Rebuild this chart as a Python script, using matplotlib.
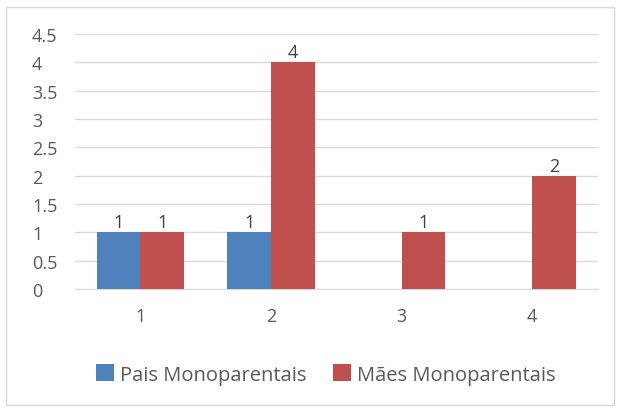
import numpy as np
import matplotlib
matplotlib.use("Agg")
from matplotlib import pyplot as plt
from matplotlib.patches import Rectangle

# dados
categorias = ["1", "2", "3", "4"]
pais = [1, 1, 0, 0]
maes = [1, 4, 1, 2]
yticks = [0, 0.5, 1, 1.5, 2, 2.5, 3, 3.5, 4, 4.5]

plt.rcParams['font.family'] = ['Open Sans', 'DejaVu Sans']
cor_txt = '#595959'
fs = 13

fig = plt.figure(figsize=(6.17, 4.10), dpi=100)
fig.patches.append(Rectangle((6/617, 4/410), 608/617, 398/410, transform=fig.transFigure,
                             fill=False, edgecolor='#D9D9D9', linewidth=1))
ax = fig.add_axes([0.1216, 0.2927, 0.847, 0.622])

x = np.arange(len(categorias))
w = 0.335
b1 = ax.bar(x - w/2, pais, w, color='#4F81BD', label='Pais Monoparentais', zorder=3)
b2 = ax.bar(x + w/2, maes, w, color='#C0504D', label='Mães Monoparentais', zorder=3)

# rótulos só para valores > 0
for bars, vals in [(b1, pais), (b2, maes)]:
    for r, v in zip(bars, vals):
        if v > 0:
            ax.text(r.get_x() + r.get_width()/2, v + 0.02, str(v), ha='center', va='bottom',
                    fontsize=fs, color='#404040')

ax.set_xlim(-0.5, 3.5)
ax.set_ylim(0, 4.5)
ax.set_yticks(yticks)
ax.set_yticklabels([f"{t:g}" for t in yticks])
ax.set_xticks(x)
ax.set_xticklabels(categorias)
ax.yaxis.grid(True, color='#D9D9D9', linewidth=1, zorder=0)
for s in ['top', 'right', 'left']:
    ax.spines[s].set_visible(False)
ax.spines['bottom'].set_color('#D9D9D9')
ax.tick_params(axis='both', length=0, labelsize=fs, colors=cor_txt)
ax.tick_params(axis='x', pad=13)
ax.tick_params(axis='y', pad=31)
for lab in ax.get_yticklabels():
    lab.set_horizontalalignment('left')

ax.legend(loc='center', bbox_to_anchor=(0.48, -0.335), ncol=2, frameon=False,
          fontsize=14.5, labelcolor=cor_txt, handlelength=0.9, handleheight=0.9,
          handletextpad=0.3, columnspacing=1.3)

fig.savefig('out.png', dpi=100)
